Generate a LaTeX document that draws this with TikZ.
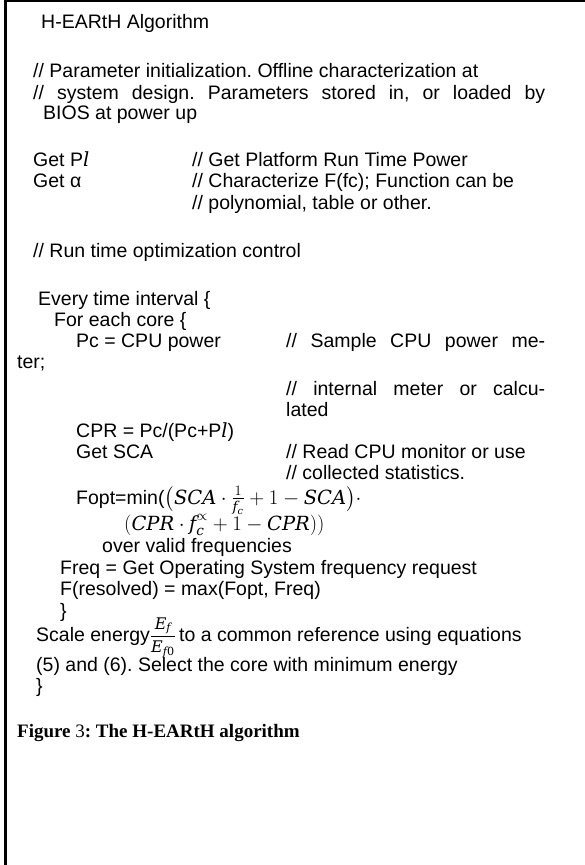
\documentclass[tikz,border=0pt]{standalone}
\usepackage{amsmath}
\usepackage{fontspec}
\setmainfont{Liberation Sans}
\newfontfamily\capfont{Liberation Serif}
\newfontfamily\varfont{DejaVu Serif}
\tikzset{
  txt/.style={anchor=base west, inner sep=0pt},
  cmt/.style={txt},
}
% justified comment lines and math variables
\newcommand{\spread}[2]{\makebox[#1][s]{#2}}
\newcommand{\mv}[1]{\text{\varfont\itshape #1}}
\newcommand{\mn}[1]{\text{\varfont #1}}
\frenchspacing

\begin{document}
\begin{tikzpicture}[x=1pt, y=-1pt, font=\fontsize{19.5}{21}\selectfont]
            \useasboundingbox (0,0) rectangle (585,865);
            % frame, open on the right and at the bottom
            \draw[line width=2.5pt] (5.5,865) -- (5.5,1.2) -- (585,1.2);

            \node[txt] (title) at (41,28) {H-EARtH Algorithm};
            \node[cmt] (init1) at (33,77) {// Parameter initialization. Offline characterization at};
            \node[cmt] (init2) at (33,99) {\spread{512pt}{// system design. Parameters stored in, or loaded by}};
            \node[cmt] (init3) at (43,119) {BIOS at power up};

            % parameters
            \node[txt] (getpl) at (33,166) {Get P$\mv{l}$};
            \node[cmt] (getplc) at (192,166) {// Get Platform Run Time Power};
            \node[txt] (geta) at (33,187) {Get α};
            \node[cmt] (getac1) at (192,187) {// Characterize F(fc); Function can be};
            \node[cmt] (getac2) at (192,209) {// polynomial, table or other.};

            \node[cmt] (run) at (33,257) {// Run time optimization control};

            % loops
            \node[txt] (every) at (38,305) {Every time interval \{};
            \node[txt] (foreach) at (54,326) {For each core \{};
            \node[txt] (pc) at (76,347) {Pc = CPU power};
            \node[cmt] (pcc1) at (286,347) {\spread{259pt}{// Sample CPU power me-}};
            \node[cmt] (pcc2) at (17,368) {ter;};
            \node[cmt] (pcc3) at (286,395) {\spread{259pt}{// internal meter or calcu-}};
            \node[cmt] (pcc4) at (286,416) {lated};
            \node[txt] (cpr) at (76,437) {CPR = Pc/(Pc+P$\mv{l}$)};
            \node[txt] (sca) at (76,458) {Get SCA};
            \node[cmt] (scac1) at (286,458) {// Read CPU monitor or use};
            \node[cmt] (scac2) at (286,479) {// collected statistics.};

            % optimum frequency
            \node[txt] (fopt) at (76,504) {Fopt=min($\bigl(\mv{SCA}\cdot\tfrac{1}{\mv{f}_{\mv{c}}}+1-\mv{SCA}\bigr)\cdot$};
            \node[txt] (fopt2) at (124,530) {$(\mv{CPR}\cdot \mv{f}_{\mv{c}}^{\propto}+1-\mv{CPR}))$};
            \node[txt] (valid) at (102,552) {over valid frequencies};
            \node[txt] (freq) at (60,574) {Freq = Get Operating System frequency request};
            \node[txt] (fres) at (60,595) {F(resolved) = max(Fopt, Freq)};
            \node[txt] (close1) at (60,617) {\}};

            % energy
            \node[txt] (scale) at (36,641) {Scale energy{\fontsize{16}{16}\selectfont$\dfrac{\mv{E}_{\mv{f}}}{\mv{E}_{\mv{f}\mn{0}}}$}\,to a common reference using equations};
            \node[txt] (scale2) at (36,671) {(5) and (6). Select the core with minimum energy};
            \node[txt] (close2) at (36,692) {\}};

            \node[txt] (caption) at (17,737) {\capfont\bfseries\fontsize{19}{21}\selectfont Figure {\mdseries 3}: The H-EARtH algorithm};
     \end{tikzpicture}
\end{document}
